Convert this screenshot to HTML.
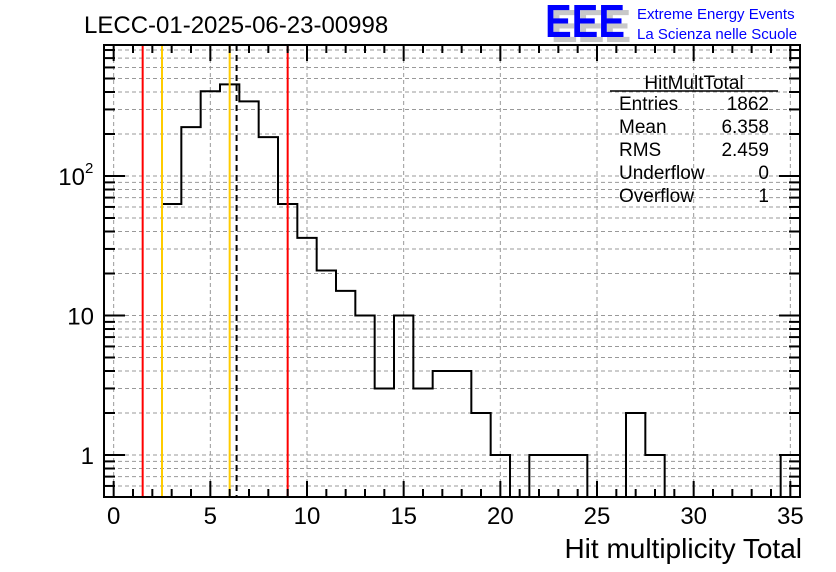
<!DOCTYPE html>
<html><head><meta charset="utf-8"><style>
body{margin:0;background:#fff}
svg{display:block;font-family:"Liberation Sans",sans-serif}
</style></head><body>
<svg id="c" width="836" height="572" viewBox="0 0 836 572">
<defs><clipPath id="clip"><rect x="104" y="45" width="696" height="452"/></clipPath></defs>
<text x="84" y="33" font-size="24">LECC-01-2025-06-23-00998</text>
<g>
<text x="551" y="42" font-size="46" font-weight="bold" fill="#c8c8c8" textLength="80" lengthAdjust="spacingAndGlyphs">EEE</text>
<text x="545" y="37" font-size="46" font-weight="bold" fill="#0000ff" textLength="80" lengthAdjust="spacingAndGlyphs">EEE</text>
<text x="637" y="19" font-size="15" fill="#0000ff">Extreme Energy Events</text>
<text x="637" y="39" font-size="15" fill="#0000ff">La Scienza nelle Scuole</text>
</g>
<g id="grid"></g>
<g id="marks" clip-path="url(#clip)"></g>
<g id="axes"></g>
<g font-size="19">
<text x="694" y="89" text-anchor="middle">HitMultTotal</text>
<line x1="610" y1="91" x2="778" y2="91" stroke="#000" stroke-width="1.5"/>
<text x="619" y="110">Entries</text><text x="769" y="110" text-anchor="end">1862</text>
<text x="619" y="133">Mean</text><text x="769" y="133" text-anchor="end">6.358</text>
<text x="619" y="156">RMS</text><text x="769" y="156" text-anchor="end">2.459</text>
<text x="619" y="179">Underflow</text><text x="769" y="179" text-anchor="end">0</text>
<text x="619" y="202">Overflow</text><text x="769" y="202" text-anchor="end">1</text>
</g>
<text x="802" y="558" font-size="28" text-anchor="end">Hit multiplicity Total</text>
</svg>
<script>
const binCenters=[3,4,5,6,7,8,9,10,11,12,13,14,15,16,17,18,19,20,21,22,23,24,25,26,27,28,29,30,31,32,33,34,35];
const counts=[63,224,405,454,343,190,63,36,21,15,10,3,10,3,4,4,2,1,0,1,1,1,0,0,2,1,0,0,0,0,0,0,1];
const xTicks=[0,5,10,15,20,25,30,35];
const yTicks=[1,10,100];
const yTickLabels=["1","10","10"];
const yTickExps=["","","2"];
const redLines=[1.5,9];
const orangeLines=[2.5,6];
const meanLine=[6.358];
const L=104,R=800,T=45,B=497,X0=-0.5,X1=35.5;
const Y1PX=455,DEC=139.5;
const sx=v=>L+(v-X0)*(R-L)/(X1-X0);
const sy=v=>Y1PX-Math.log10(v)*DEC;
const NS="http://www.w3.org/2000/svg";
function mk(p,t,a){const e=document.createElementNS(NS,t);for(const k in a)e.setAttribute(k,a[k]);p.appendChild(e);return e;}
const grid=document.getElementById('grid'),marks=document.getElementById('marks'),axes=document.getElementById('axes');
xTicks.forEach(v=>{const e=mk(grid,'line',{x1:sx(v),x2:sx(v),y1:T,y2:B,stroke:'#999','stroke-dasharray':'4,3','stroke-width':1});

});
for(let d=-1;d<=2;d++)for(let m=1;m<=9;m++){const v=m*Math.pow(10,d);const y=sy(v);if(y<T||y>B)continue;
const e=mk(grid,'line',{x1:L,x2:R,y1:y,y2:y,stroke:'#999','stroke-dasharray':'4,3','stroke-width':1});


const t1=mk(axes,'line',{x1:L,x2:L+(m==1?21:11),y1:y,y2:y,stroke:'#000','stroke-width':2});


const t2=mk(axes,'line',{x1:R,x2:R-(m==1?21:11),y1:y,y2:y,stroke:'#000','stroke-width':2});

}
let d='';
binCenters.forEach((c,i)=>{const v=counts[i];const x0=sx(c-0.5),x1=sx(c+0.5);const y=v>0?sy(v):B+20;
d+=(i==0?'M'+x0+','+(B+20):'')+'L'+x0+','+y+'L'+x1+','+y;});
const last=binCenters[binCenters.length-1];
d+='L'+sx(last+0.5)+','+(B+20);
const h=mk(marks,'path',{d:d,fill:'none',stroke:'#000','stroke-width':2});


redLines.forEach(v=>{const e=mk(marks,'line',{x1:sx(v),x2:sx(v),y1:T,y2:B,stroke:'#ff0000','stroke-width':2});

});
orangeLines.forEach(v=>{const e=mk(marks,'line',{x1:sx(v),x2:sx(v),y1:T,y2:B,stroke:'#ffcc00','stroke-width':2});

});
meanLine.forEach(v=>{const e=mk(marks,'line',{x1:sx(v),x2:sx(v),y1:T,y2:B,stroke:'#000','stroke-width':2,'stroke-dasharray':'6,4'});

});
const fr=mk(axes,'rect',{x:L,y:T,width:R-L,height:B-T,fill:'none',stroke:'#000','stroke-width':2});


for(let v=0;v<=35;v++){const x=sx(v);const len=v%5==0?16:8;
const a=mk(axes,'line',{x1:x,x2:x,y1:B,y2:B-len,stroke:'#000','stroke-width':2});


const b=mk(axes,'line',{x1:x,x2:x,y1:T,y2:T+len,stroke:'#000','stroke-width':2});

}
xTicks.forEach(v=>{const t=mk(axes,'text',{x:sx(v),y:524,'font-size':24,'text-anchor':'middle'});t.textContent=v;

});
yTicks.forEach((v,i)=>{const t=mk(axes,'text',{x:yTickExps[i]?85:94,y:sy(v)+9,'font-size':24,'text-anchor':'end'});t.textContent=yTickLabels[i];


if(yTickExps[i]){const s=mk(axes,'text',{x:85,y:sy(v)-3,'font-size':15});s.textContent=yTickExps[i];

}});
</script>
</body></html>
